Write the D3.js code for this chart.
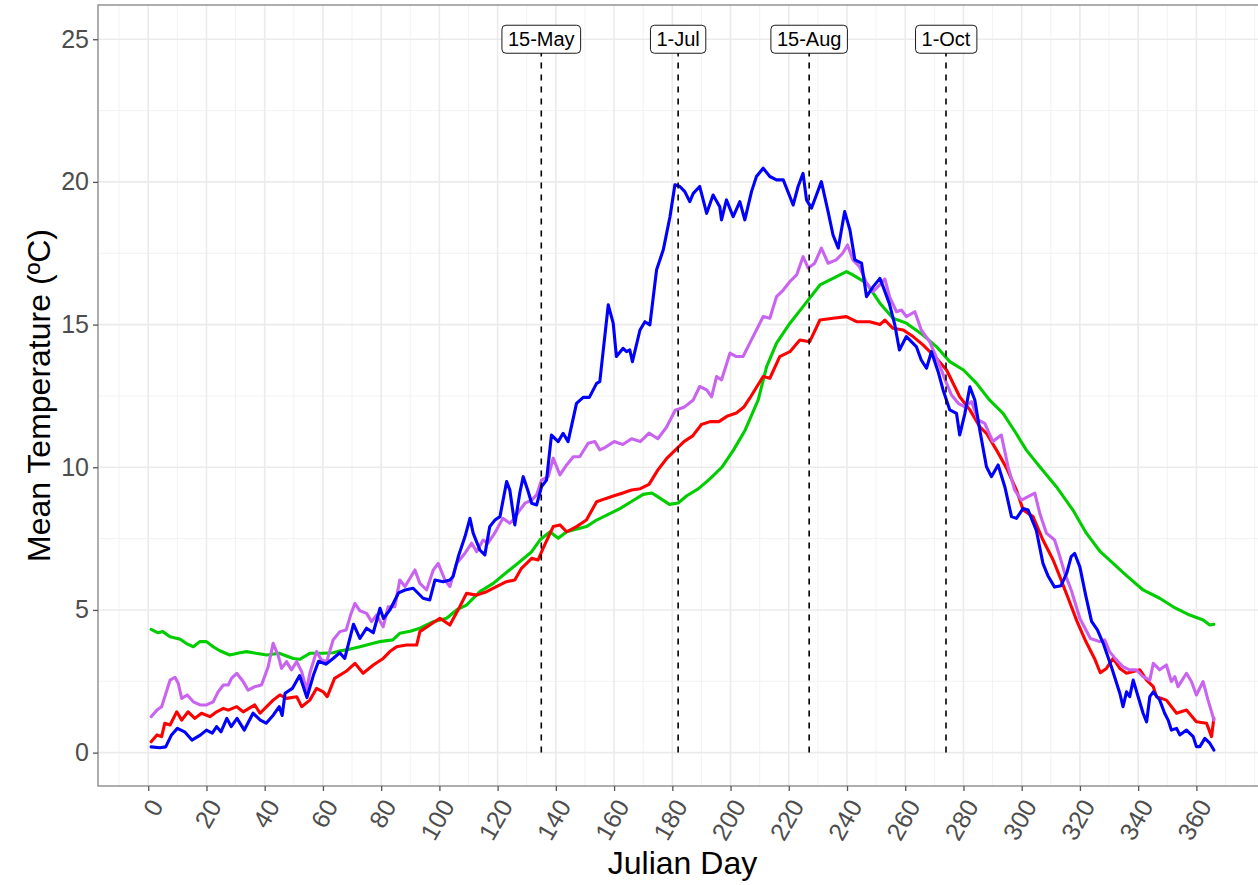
<!DOCTYPE html>
<html>
<head>
<meta charset="utf-8">
<script src="https://cdn.jsdelivr.net/npm/d3@7"></script>
<style>
  body { margin: 0; background: #fff; }
  text { font-family: "Liberation Sans", Arial, sans-serif; }
</style>
</head>
<body>
<div class="chart"></div>
<script>
let FRAME_WIDTH = 1258;
let FRAME_HEIGHT = 885;
let PANEL = {left: 98, right: 1267, top: 5, bottom: 786};

// tick labels
let X_TICKS = [0, 20, 40, 60, 80, 100, 120, 140, 160, 180, 200, 220, 240, 260, 280, 300, 320, 340, 360];
let Y_TICKS = [0, 5, 10, 15, 20, 25];

// date markers
let MARK_LABELS = ["15-May", "1-Jul", "15-Aug", "1-Oct"];
let MARK_DAYS = [135, 182, 227, 274];
let MARK_TOP = 25;

// blue series
let blueDay = [1, 4, 6, 8, 10, 12.5, 15, 18, 20, 22, 23.5, 25, 27, 28.5, 30.5, 33, 36, 38.5, 40.5, 43, 45, 46, 47, 49.5,
  52, 54.5, 56.7, 58.5, 61, 63.5, 65.8, 67.5, 70.5, 72.7, 75, 77.3, 79.6, 80.8, 83, 86, 88.2, 91, 94.4, 96.7, 98.5,
  101.3, 103.6, 104.7, 106.5, 108.8, 110.5, 111.6, 113.9, 115.6, 117.3, 119.1, 120.8, 123.1, 124.2, 125.9, 127.6,
  128.8, 130.5, 131.7, 133.4, 135.1, 136.8, 138.5, 140.8, 142.5, 144.2, 147.1, 149.4, 151.5, 154, 155.1, 158, 159.7,
  160.8, 163.1, 164.3, 165.4, 166.3, 168.9, 170.6, 172.3, 174.6, 176.9, 179.2, 180.9, 182.6, 184.3, 186, 187.2,
  189.4, 191.8, 194, 196.3, 196.9, 198.6, 200.9, 203.2, 204.9, 207.2, 208.9, 211.2, 213.5, 215.8, 218.1, 220.4,
  221.5, 223.2, 224.9, 226.1, 227.8, 229.5, 231.2, 233.5, 235.2, 237, 239.2, 241, 242.7, 245, 246.7, 249, 251.3,
  252.4, 254.5, 256.4, 258, 260.4, 263.8, 265.5, 267.3, 269, 271.3, 273, 275.3, 277.6, 278.7, 280.5, 282.2, 283.9,
  285.6, 287.9, 289.6, 291.9, 294.2, 296.5, 298.2, 300.5, 302.2, 305, 307.3, 309, 311.3, 313.5, 315.5, 317, 318.2,
  320, 322, 324, 326, 328, 330.8, 333.7, 334.8, 336, 337.1, 338.3, 340, 341.7, 342.9, 344, 345.2, 347.4, 349.1,
  350.3, 351.4, 353.2, 354.3, 356.6, 358.9, 360, 361.2, 362.9, 364.6, 366];
let blueTemp = [0.2, 0.17, 0.2, 0.62, 0.85, 0.73, 0.44, 0.62, 0.79, 0.68, 0.91, 0.73, 1.2, 0.91, 1.2, 0.79, 1.38, 1.14,
  1.03, 1.32, 1.61, 1.3, 2.08, 2.25, 2.7, 1.93, 2.7, 3.2, 3.1, 3.3, 3.5, 3.3, 4.5, 4.0, 4.36, 4.2, 5.06, 4.7, 5.0,
  5.6, 5.7, 5.76, 5.41, 5.35, 6.05, 5.99, 6.05, 6.17, 6.87, 7.57, 8.21, 7.69, 7.1, 6.93, 7.92, 8.15, 8.27, 9.5, 9.2,
  7.98, 9.09, 9.67, 9.15, 8.74, 8.68, 9.32, 9.55, 11.13, 10.9, 11.19, 10.9, 12.24, 12.45, 12.45, 12.94, 13.0, 15.69,
  15.05, 13.88, 14.17, 14.05, 14.11, 13.7, 14.81, 15.1, 14.99, 16.92, 17.62, 18.78, 19.9, 19.84, 19.66, 19.31, 19.6,
  19.84, 18.9, 19.54, 19.13, 18.67, 19.37, 18.78, 19.31, 18.67, 19.66, 20.19, 20.48, 20.19, 20.07, 20.07, 19.48,
  19.19, 19.84, 20.3, 19.37, 19.08, 19.54, 20.01, 18.96, 18.14, 17.68, 18.96, 18.32, 17.27, 17.15, 15.98, 16.33,
  16.62, 16.33, 15.75, 15.0, 14.11, 14.58, 14.23, 13.76, 13.47, 14.05, 13.35, 12.71, 12.01, 11.89, 11.13, 11.89,
  12.82, 12.36, 11.31, 10.02, 9.67, 10.08, 9.32, 8.27, 8.21, 8.56, 8.5, 7.8, 6.63, 6.2, 5.8, 5.85, 6.3, 6.87, 6.98,
  6.5, 5.5, 4.6, 4.3, 3.83, 3.01, 2.08, 1.61, 2.13, 1.96, 2.54, 1.96, 1.38, 1.08, 1.96, 2.13, 1.84, 1.38, 1.14, 0.79,
  0.85, 0.62, 0.79, 0.56, 0.21, 0.21, 0.5, 0.33, 0.09];

// red series
let redDay = [1, 3, 4.6, 5.7, 7.5, 9.8, 11.5, 13.7, 16, 18.3, 21.2, 23.5, 25.8, 27.5, 30.4, 32.6, 36.6, 38.4, 42.9,
  45.2, 47.5, 51, 52.7, 55.5, 57.8, 60.1, 61.5, 64, 68, 71, 73.8, 77.3, 80.7, 83, 85.3, 88.7, 92.2, 93.3, 96.7,
  100.2, 103.6, 107, 109.3, 112.8, 116.2, 119.6, 123, 125.9, 128.2, 131.7, 133.9, 135.6, 139.1, 141.4, 143.7,
  147.1, 150.5, 154, 157, 160, 163, 166, 169, 172, 175, 178, 181, 184, 187, 190, 193, 196, 199, 202, 204.5, 206.6,
  211.2, 213.5, 216.9, 220.4, 223.8, 227.2, 230.7, 235.2, 239.8, 243.3, 247.8, 251.3, 253, 255.8, 259.3, 262.7,
  266.1, 270.7, 274.2, 275.3, 278.7, 282.2, 285.6, 287.9, 291.3, 294.8, 298.2, 300.5, 303.9, 307.3, 310.8, 313.1,
  316, 319, 322, 325, 327, 329.1, 331.4, 333.7, 336, 338.3, 340.6, 342.9, 345.2, 346.3, 349.7, 353.2, 356.6, 360,
  363.5, 365.2, 366];
let redTemp = [0.38, 0.62, 0.56, 1.03, 0.97, 1.43, 1.14, 1.43, 1.2, 1.38, 1.26, 1.43, 1.55, 1.49, 1.61, 1.43, 1.67,
  1.38, 1.84, 2.02, 1.9, 1.96, 1.61, 1.84, 2.25, 2.13, 1.96, 2.6, 2.85, 3.13, 2.78, 3.07, 3.3, 3.54, 3.71, 3.77,
  3.77, 4.24, 4.47, 4.71, 4.47, 5.11, 5.58, 5.52, 5.64, 5.82, 5.99, 6.05, 6.46, 6.81, 6.75, 7.16, 7.92, 7.98, 7.74,
  7.92, 8.15, 8.79, 8.9, 9.0, 9.1, 9.2, 9.25, 9.4, 9.9, 10.3, 10.6, 10.9, 11.1, 11.5, 11.6, 11.6, 11.8, 11.9, 12.1,
  12.42, 13.18, 13.12, 13.88, 14.05, 14.46, 14.4, 15.16, 15.22, 15.28, 15.1, 15.1, 15.0, 15.16, 14.87, 14.81, 14.58,
  14.29, 13.82, 13.41, 13.18, 12.47, 12.01, 11.42, 11.19, 10.61, 9.97, 9.2, 8.5, 8.27, 7.45, 6.75, 6.17, 5.4, 4.6,
  3.9, 3.3, 2.8, 2.95, 3.3, 2.95, 2.78, 2.84, 2.9, 2.54, 2.31, 1.96, 1.84, 1.38, 1.49, 1.08, 1.03, 0.56, 1.2];

// green series
let greenDay = [1, 3.4, 5, 7.5, 11, 13, 15.5, 17.7, 20, 22.3, 24.6, 28, 31.5, 33.8, 37, 40.7, 45, 49.8, 52, 55.5, 60,
  63.5, 66, 68, 72.7, 75, 79.6, 84, 86.4, 90, 93.3, 97.9, 102.5, 105.9, 109.3, 113.9, 118.5, 123, 127.6, 131.7,
  134.5, 138, 140.8, 143.7, 150.5, 154, 158, 162, 166, 170, 173, 176, 179, 182, 185, 189, 193, 197, 201, 205, 209.5,
  212.4, 215.8, 220.4, 224.9, 230.7, 235.2, 239.8, 242, 246.7, 251.3, 255.8, 260.4, 266, 270.7, 275.3, 280, 284.5,
  289, 293.6, 298, 301.6, 306.2, 311.9, 317.6, 322.2, 327, 331.4, 336, 341.7, 347.4, 352, 357.7, 362.3, 364.6, 366];
let greenTemp = [4.32, 4.2, 4.24, 4.06, 3.97, 3.83, 3.71, 3.89, 3.89, 3.71, 3.57, 3.42, 3.5, 3.54, 3.48, 3.42, 3.48,
  3.3, 3.27, 3.48, 3.48, 3.5, 3.57, 3.6, 3.71, 3.77, 3.89, 3.95, 4.18, 4.25, 4.36, 4.59, 4.71, 5.0, 5.17, 5.64, 5.93,
  6.31, 6.69, 7.04, 7.45, 7.74, 7.51, 7.74, 7.92, 8.15, 8.35, 8.55, 8.8, 9.05, 9.1, 8.9, 8.7, 8.75, 9.0, 9.25, 9.6,
  10.0, 10.6, 11.3, 12.36, 13.53, 14.35, 15.05, 15.63, 16.39, 16.62, 16.86, 16.74, 16.45, 15.75, 15.22, 15.05, 14.64,
  14.23, 13.7, 13.41, 12.94, 12.35, 11.89, 11.2, 10.6, 10.02, 9.32, 8.5, 7.69, 7.04, 6.63, 6.2, 5.7, 5.41, 5.11,
  4.82, 4.65, 4.47, 4.5];

// purple series
let purpleDay = [1, 3, 4.6, 5.7, 7.5, 9.2, 10.3, 11.5, 13.4, 15.5, 17.8, 20, 22.3, 24, 25.8, 27.5, 28.6, 30.4, 32.6,
  34.3, 36.6, 38.9, 41.2, 42.9, 44.6, 45.8, 47.5, 49.2, 51, 52.7, 54.4, 55.5, 57.8, 59.5, 61.3, 63.5, 65.8, 68, 69.5,
  71, 72.7, 75, 76.7, 78.4, 80.7, 82.4, 84.7, 86.4, 88.2, 89.9, 91.6, 93.3, 95.6, 97.9, 99.6, 101.9, 103.6, 105.9,
  108.8, 111.1, 112.8, 115, 116.7, 119, 121.8, 124.2, 125.3, 127.6, 129.4, 131.7, 133.4, 135.1, 137.4, 139.1, 141.4,
  143.7, 146, 148.2, 151.1, 153.4, 155.1, 157, 160, 163, 166, 169, 172, 175, 178, 181, 184, 187.2, 189.4, 191.8,
  193.5, 195.2, 196.9, 199.8, 202, 204.3, 206.6, 208.9, 211.2, 213.5, 215.8, 218.1, 220.4, 222.7, 224.9, 226.7,
  228.9, 231.2, 233.5, 236.3, 238.5, 240.2, 242, 244.3, 246.7, 249, 251.3, 253, 254.7, 257, 258.7, 260.4, 263.3,
  265.5, 268.4, 271.3, 274.2, 275.9, 278.2, 280.5, 282.8, 285, 287.3, 290.1, 293, 295.3, 297.6, 299.9, 302.2, 304.5,
  306.2, 308.5, 311.3, 313.1, 314.8, 317, 320, 323.6, 326.8, 328.5, 330.2, 332.5, 334.8, 337.1, 339.4, 341.7, 344,
  345.2, 347.4, 349.7, 351.4, 352.6, 353.7, 356.6, 358.3, 360, 362.3, 364, 365.7, 366];
let purpleTemp = [1.26, 1.49, 1.61, 1.96, 2.54, 2.64, 2.43, 1.9, 2.02, 1.78, 1.67, 1.67, 1.78, 2.13, 2.37, 2.37, 2.6,
  2.78, 2.49, 2.19, 2.31, 2.37, 3.01, 3.83, 3.42, 2.95, 3.19, 2.9, 3.19, 2.84, 2.19, 2.78, 3.54, 3.25, 3.19, 3.95,
  4.24, 4.3, 4.82, 5.23, 4.97, 4.88, 4.59, 4.82, 4.41, 5.11, 5.11, 6.05, 5.82, 6.11, 6.4, 5.93, 5.7, 6.4, 6.63, 6.05,
  5.82, 6.63, 6.99, 7.34, 7.04, 7.45, 7.34, 7.69, 8.21, 8.04, 8.15, 8.5, 8.74, 8.85, 9.03, 9.55, 9.67, 10.32, 9.73,
  10.08, 10.37, 10.37, 10.84, 10.9, 10.61, 10.7, 10.9, 10.8, 11.0, 10.9, 11.2, 11.0, 11.4, 12.0, 12.1, 12.36, 12.83,
  12.71, 12.47, 13.18, 13.06, 14.0, 13.88, 13.88, 14.35, 14.81, 15.28, 15.22, 15.98, 16.21, 16.51, 16.74, 17.38,
  16.98, 17.15, 17.68, 17.15, 17.27, 17.5, 17.79, 17.27, 17.03, 16.45, 16.16, 16.4, 16.6, 15.95, 15.45, 15.51,
  15.28, 15.45, 14.81, 14.4, 13.7, 12.94, 12.53, 12.24, 12.12, 12.3, 11.66, 11.54, 10.9, 11.13, 10.02, 9.2, 8.85,
  8.97, 9.09, 8.39, 7.69, 7.45, 6.87, 6.28, 5.7, 4.7, 4.0, 3.89, 3.95, 3.54, 3.25, 3.01, 2.9, 2.9, 2.66, 2.54, 3.13,
  2.9, 3.07, 2.49, 2.66, 2.31, 2.78, 2.49, 2.02, 2.49, 1.84, 1.26, 1.14];

let SERIES = [
  {name: "green", color: "#00CD00", day: greenDay, temp: greenTemp},
  {name: "red", color: "#FF0000", day: redDay, temp: redTemp},
  {name: "purple", color: "#C964F0", day: purpleDay, temp: purpleTemp},
  {name: "blue", color: "#0000FF", day: blueDay, temp: blueTemp}
];

let FRAME = d3.select(".chart")
  .append("svg")
  .attr("width", FRAME_WIDTH)
  .attr("height", FRAME_HEIGHT);

const X_SCALE = d3.scaleLinear()
  .domain([-17.25, 384.25])
  .range([PANEL.left, PANEL.right]);

const Y_SCALE = d3.scaleLinear()
  .domain([-1.17, 26.2])
  .range([PANEL.bottom, PANEL.top]);

// clip so nothing leaks out of the panel
FRAME.append("clipPath").attr("id", "panel-clip")
  .append("rect")
  .attr("x", PANEL.left).attr("y", PANEL.top)
  .attr("width", PANEL.right - PANEL.left).attr("height", PANEL.bottom - PANEL.top);

let grid = FRAME.append("g");

// minor grid lines sit halfway between the majors
let xMinor = X_TICKS.map((d) => d - 10).concat([370, 380]).filter((d) => d > -17.25);
let yMinor = Y_TICKS.map((d) => d + 2.5);

grid.selectAll(".xminor").data(xMinor).enter().append("line")
  .attr("x1", (d) => X_SCALE(d)).attr("x2", (d) => X_SCALE(d))
  .attr("y1", PANEL.top).attr("y2", PANEL.bottom)
  .attr("stroke", "#f2f2f2").attr("stroke-width", 1);

grid.selectAll(".yminor").data(yMinor).enter().append("line")
  .attr("x1", PANEL.left).attr("x2", PANEL.right)
  .attr("y1", (d) => Y_SCALE(d)).attr("y2", (d) => Y_SCALE(d))
  .attr("stroke", "#f2f2f2").attr("stroke-width", 1);

grid.selectAll(".xmajor").data(X_TICKS).enter().append("line")
  .attr("x1", (d) => X_SCALE(d)).attr("x2", (d) => X_SCALE(d))
  .attr("y1", PANEL.top).attr("y2", PANEL.bottom)
  .attr("stroke", "#ebebeb").attr("stroke-width", 1.6);

grid.selectAll(".ymajor").data(Y_TICKS).enter().append("line")
  .attr("x1", PANEL.left).attr("x2", PANEL.right)
  .attr("y1", (d) => Y_SCALE(d)).attr("y2", (d) => Y_SCALE(d))
  .attr("stroke", "#ebebeb").attr("stroke-width", 1.6);

// temperature lines
let line = d3.line()
  .x((d) => X_SCALE(d[0]))
  .y((d) => Y_SCALE(d[1]));

let lines = FRAME.append("g").attr("clip-path", "url(#panel-clip)");
SERIES.forEach((s) => {
  let pts = s.day.map((d, i) => [d, s.temp[i]]);
  lines.append("path")
    .datum(pts)
    .attr("d", line)
    .attr("fill", "none")
    .attr("stroke", s.color)
    .attr("stroke-width", 3.1)
    .attr("stroke-linejoin", "round")
    .attr("stroke-linecap", "round");
});

// dashed date markers
let marks = FRAME.append("g");
marks.selectAll("line").data(MARK_DAYS).enter().append("line")
  .attr("x1", (d) => X_SCALE(d)).attr("x2", (d) => X_SCALE(d))
  .attr("y1", Y_SCALE(0)).attr("y2", Y_SCALE(MARK_TOP))
  .attr("stroke", "#000").attr("stroke-width", 1.6)
  .attr("stroke-dasharray", "6,6");

MARK_DAYS.forEach((d, i) => {
  let g = marks.append("g");
  let t = g.append("text")
    .attr("x", X_SCALE(d)).attr("y", Y_SCALE(MARK_TOP))
    .attr("dy", "0.36em")
    .attr("text-anchor", "middle")
    .attr("font-size", "20px")
    .attr("fill", "#000")
    .text(MARK_LABELS[i]);
  let bb = t.node().getBBox();
  g.insert("rect", "text")
    .attr("x", bb.x - 6).attr("y", Y_SCALE(MARK_TOP) - 14)
    .attr("width", bb.width + 12).attr("height", 28)
    .attr("rx", 4).attr("ry", 4)
    .attr("fill", "#fff").attr("stroke", "#000").attr("stroke-width", 0.9);
});

// panel border
FRAME.append("rect")
  .attr("x", PANEL.left).attr("y", PANEL.top)
  .attr("width", PANEL.right - PANEL.left).attr("height", PANEL.bottom - PANEL.top)
  .attr("fill", "none").attr("stroke", "#8c8c8c").attr("stroke-width", 1.4);

// axes
let yAxis = FRAME.append("g")
  .attr("transform", "translate(" + PANEL.left + ",0)")
  .call(d3.axisLeft(Y_SCALE).tickValues(Y_TICKS).tickSize(5).tickPadding(4));
yAxis.select(".domain").remove();
yAxis.selectAll(".tick line").attr("stroke", "#555").attr("stroke-width", 1.3);
yAxis.selectAll(".tick text")
  .attr("font-size", "25px").attr("fill", "#4d4d4d")
  .attr("font-family", "Liberation Sans, Arial, sans-serif");

let xAxis = FRAME.append("g")
  .attr("transform", "translate(0," + PANEL.bottom + ")")
  .call(d3.axisBottom(X_SCALE).tickValues(X_TICKS).tickSize(5));
xAxis.select(".domain").remove();
xAxis.selectAll(".tick line").attr("stroke", "#555").attr("stroke-width", 1.3);
xAxis.selectAll(".tick text")
  .attr("font-size", "25px").attr("fill", "#4d4d4d")
  .attr("font-family", "Liberation Sans, Arial, sans-serif")
  .attr("text-anchor", "end")
  .attr("x", 0).attr("y", 0)
  .attr("dy", "0.72em")
  .attr("transform", "translate(0,11) rotate(-60)");

// axis titles
FRAME.append("text")
  .attr("x", (PANEL.left + PANEL.right) / 2)
  .attr("y", 874)
  .attr("text-anchor", "middle")
  .attr("font-size", "32px")
  .attr("fill", "#000")
  .text("Julian Day");

FRAME.append("text")
  .attr("transform", "translate(50," + ((PANEL.top + PANEL.bottom) / 2) + ") rotate(-90)")
  .attr("text-anchor", "middle")
  .attr("font-size", "32px")
  .attr("fill", "#000")
  .text("Mean Temperature (ºC)");
</script>
</body>
</html>
